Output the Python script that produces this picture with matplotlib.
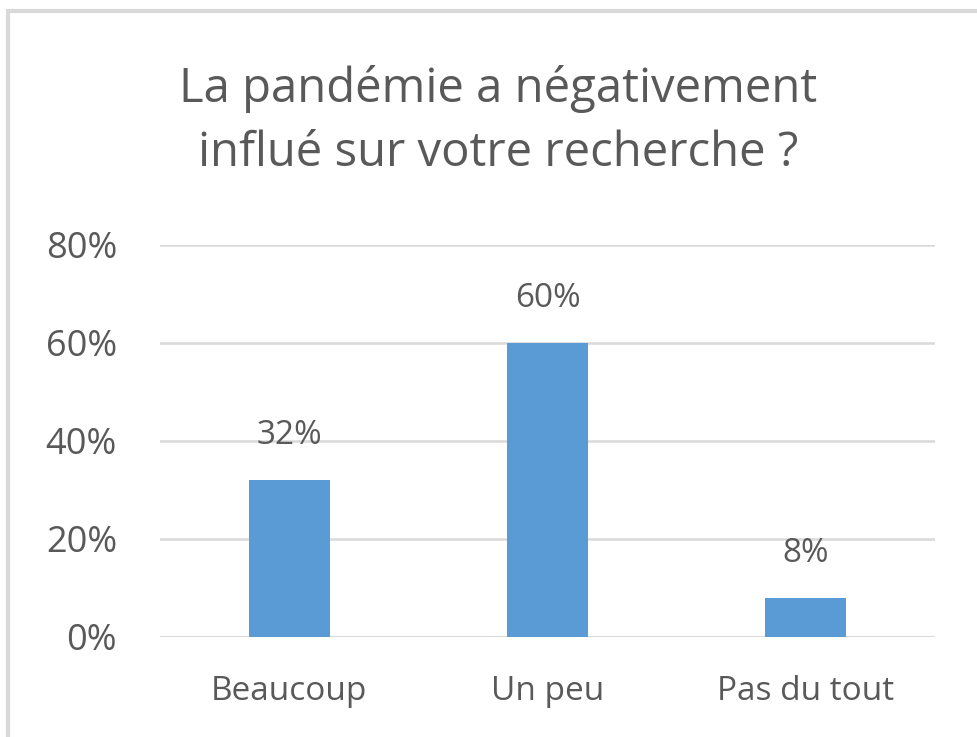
import matplotlib
matplotlib.use("Agg")
import matplotlib.pyplot as plt
from matplotlib.patches import Rectangle

categories = ["Beaucoup", "Un peu", "Pas du tout"]
values = [32, 60, 8]
yticks = [0, 20, 40, 60, 80]
title = "La pandémie a négativement\ninflué sur votre recherche ?"

plt.rcParams['font.family'] = ['Open Sans', 'DejaVu Sans']
TXT = "#595959"
W, H = 978, 737
fig = plt.figure(figsize=(W/100, H/100), dpi=100)
ax = fig.add_axes([160/W, 1-637/H, 775/W, (637-245)/H])

x = range(len(categories))
ax.bar(x, values, width=0.314, color="#5B9BD5", zorder=3)
ax.set_xlim(-0.5, len(categories)-0.5)
ax.set_ylim(0, 80)
ax.set_yticks(yticks)
ax.set_yticklabels([f"{t}%" for t in yticks], fontsize=26, color=TXT)
ax.set_xticks(list(x))
ax.set_xticklabels(categories, fontsize=24, color=TXT)
ax.tick_params(axis='x', length=0, pad=27)
ax.tick_params(axis='y', length=0, pad=31)
ax.grid(axis='y', color="#D9D9D9", linewidth=1.8, zorder=0)
for s in ax.spines.values():
    s.set_visible(False)
ax.axhline(0, color="#D9D9D9", linewidth=2.2, zorder=2)

for xi, v in zip(x, values):
    ax.annotate(f"{v}%", (xi, v), xytext=(0, 32), textcoords='offset points',
                ha='center', va='center', fontsize=24, color=TXT)

fig.text(498/W, 1-121/H, title, ha='center', va='center', fontsize=34, color=TXT, linespacing=1.45)

fig.patches.append(Rectangle((8/W, -0.05), 1.1, 1-11/H+0.05, transform=fig.transFigure,
                             fill=False, edgecolor="#D9D9D9", linewidth=3))
fig.savefig("out.png", dpi=100)
